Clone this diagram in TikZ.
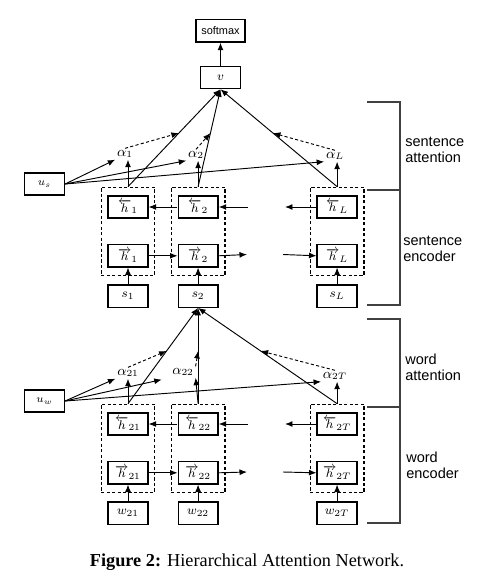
\documentclass[tikz,border=0pt]{standalone}
\usepackage{fontspec}
\setmainfont{Liberation Serif}
\setsansfont{Liberation Sans}
\usetikzlibrary{arrows.meta,positioning,fit}

\begin{document}
\begin{tikzpicture}[x=0.0225cm, y=-0.0225cm,
    box/.style={draw, line width=0.8pt, minimum width=0.9cm, minimum height=0.5cm,
                inner sep=1pt, font=\fontsize{8}{9}\selectfont},
    grp/.style={draw, line width=0.8pt, dash pattern=on 2pt off 1.5pt,
                inner xsep=0.14cm, inner ysep=0.18cm},
    lbl/.style={font=\fontsize{9}{10}\selectfont, inner sep=1pt},
    arr/.style={-{Latex[length=4.8pt,width=3.8pt]}, line width=0.6pt},
    darr/.style={arr, dash pattern=on 2pt off 1.5pt},
    side/.style={font=\sffamily\fontsize{9.3}{10.2}\selectfont, align=left,
                 anchor=west, inner sep=0pt},
    brk/.style={line width=0.7pt, black!75}
  ]
    \useasboundingbox (0,0) rectangle (487,584);

    \node[box] (v)    at (220.5,77.5)          {$v$};
    \node[box, minimum width=1.1cm, font=\sffamily\fontsize{7}{8}\selectfont]
                (soft) [above=0.52cm of v]     {softmax};
    \node[box, font=\fontsize{7}{8}\selectfont] (us) at (44.5,184) {$u_s$};
    \node[lbl] (a1)   at (125,154)             {$\alpha_1$};
    \node[lbl] (a2)   at (196,155)             {$\alpha_2$};
    \node[lbl] (aL)   at (335,156)             {$\alpha_L$};
    \node[box] (hb1)  at (128,207)             {$\overleftarrow{h}_1$};
    \node[box] (hf1)  [below=0.57cm of hb1]    {$\overrightarrow{h}_1$};
    \node[box] (s1)   [below=0.38cm of hf1]    {$s_1$};
    \node[box] (hb2)  [right=0.65cm of hb1]    {$\overleftarrow{h}_2$};
    \node[box] (hf2)  [below=0.57cm of hb2]    {$\overrightarrow{h}_2$};
    \node[box] (s2)   [below=0.38cm of hf2]    {$s_2$};
    \node[box] (hbL)  [right=2.2cm of hb2]     {$\overleftarrow{h}_L$};
    \node[box] (hfL)  [below=0.57cm of hbL]    {$\overrightarrow{h}_L$};
    \node[box] (sL)   [below=0.38cm of hfL]    {$s_L$};
    \node[grp, fit=(hb1)(hf1)] (g1) {};
    \node[grp, fit=(hb2)(hf2)] (g2) {};
    \node[grp, fit=(hbL)(hfL)] (gL) {};
    \coordinate (bo2) at (248,207);
    \coordinate (boL) at (285,207);
    \coordinate (fo2) at (247,254.5);
    \coordinate (foL) at (283,254.5);

    \node[box, font=\fontsize{7}{8}\selectfont] (uw) at (44.5,401) {$u_w$};
    \node[lbl] (a21)  at (128,373)             {$\alpha_{21}$};
    \node[lbl] (a22)  at (183,372)             {$\alpha_{22}$};
    \node[lbl] (a2T)  at (335,376)             {$\alpha_{2T}$};
    \node[box] (hb21) at (128,424)             {$\overleftarrow{h}_{21}$};
    \node[box] (hf21) [below=0.57cm of hb21]   {$\overrightarrow{h}_{21}$};
    \node[box] (w21)  [below=0.38cm of hf21]   {$w_{21}$};
    \node[box] (hb22) [right=0.65cm of hb21]   {$\overleftarrow{h}_{22}$};
    \node[box] (hf22) [below=0.57cm of hb22]   {$\overrightarrow{h}_{22}$};
    \node[box] (w22)  [below=0.38cm of hf22]   {$w_{22}$};
    \node[box] (hb2T) [right=2.2cm of hb22]    {$\overleftarrow{h}_{2T}$};
    \node[box] (hf2T) [below=0.57cm of hb2T]   {$\overrightarrow{h}_{2T}$};
    \node[box] (w2T)  [below=0.38cm of hf2T]   {$w_{2T}$};
    \node[grp, fit=(hb21)(hf21)] (g21) {};
    \node[grp, fit=(hb22)(hf22)] (g22) {};
    \node[grp, fit=(hb2T)(hf2T)] (g2T) {};
    \coordinate (bo22) at (248,424);
    \coordinate (bo2T) at (285,424);
    \coordinate (fo22) at (247,472);
    \coordinate (fo2T) at (283,472);

    \node[side] (sa) at (405,149.5) {sentence\\attention};
    \node[side] (se) at (403,249)   {sentence\\encoder};
    \node[side] (wa) at (405,367)   {word\\attention};
    \node[side] (we) at (406,465)   {word\\encoder};
    \node[font=\fontsize{11.7}{14}\selectfont] (cap) at (247,562)
        {\textbf{Figure 2:} Hierarchical Attention Network.};

    \draw[arr]  (v)    -- (soft);
    \draw[arr]  (g1.north) -- coordinate[pos=0.55] (m1) (v.south);
    \draw[arr]  (g2.north) -- coordinate[pos=0.55] (m2) (v.south);
    \draw[arr]  (gL.north) -- coordinate[pos=0.55] (mL) (v.south);
    \draw[darr] (a1.north) -- (m1);
    \draw[darr] (a2.north) -- (m2);
    \draw[darr] (aL.north) -- (mL);
    \draw[arr]  (us.east) -- (a1.south west);
    \draw[arr]  (us.east) -- (a2.south west);
    \draw[arr]  (us.east) -- (aL.south west);
    \draw[arr]  (g1.north) -- (g1.north |- a1.south);
    \draw[arr]  (g2.north) -- (g2.north |- a2.south);
    \draw[arr]  (gL.north) -- (gL.north |- aL.south);
    \draw[arr]  (hb2.west) -- (hb1.east);
    \draw[arr]  (bo2)      -- (hb2.east);
    \draw[arr]  (hbL.west) -- (boL);
    \draw[arr]  (hf1.east) -- (hf2.west);
    \draw[arr]  (hf2.east) -- (fo2);
    \draw[arr]  (foL)      -- (hfL.west);
    \draw[arr]  (s1) -- (hf1);
    \draw[arr]  (s2) -- (hf2);
    \draw[arr]  (sL) -- (hfL);

    \draw[arr]  (g21.north) -- coordinate[pos=0.55] (m21) (s2.south);
    \draw[arr]  (g22.north) -- coordinate[pos=0.55] (m22) (s2.south);
    \draw[arr]  (g2T.north) -- coordinate[pos=0.55] (m2T) (s2.south);
    \draw[darr] (a21.north) -- (m21);
    \draw[darr] (a22.north east) -- (m22);
    \draw[darr] (a2T.north) -- (m2T);
    \draw[arr]  (uw.east) -- (a21.south west);
    \draw[arr, shorten >=0.2cm] (uw.east) -- (a22.south west);
    \draw[arr]  (uw.east) -- (a2T.south west);
    \draw[arr]  (g21.north) -- (g21.north |- a21.south);
    \draw[arr]  (g22.north) -- (a22.south east);
    \draw[arr]  (g2T.north) -- (g2T.north |- a2T.south);
    \draw[arr]  (hb22.west) -- (hb21.east);
    \draw[arr]  (bo22)      -- (hb22.east);
    \draw[arr]  (hb2T.west) -- (bo2T);
    \draw[arr]  (hf21.east) -- (hf22.west);
    \draw[arr]  (hf22.east) -- (fo22);
    \draw[arr]  (fo2T)      -- (hf2T.west);
    \draw[arr]  (w21) -- (hf21);
    \draw[arr]  (w22) -- (hf22);
    \draw[arr]  (w2T) -- (hf2T);

    \draw[brk] (367,102) -- (400,102) -- (400,305) -- (367,305);
    \draw[brk] (367,190) -- (400,190);
    \draw[brk] (367,319) -- (400,319) -- (400,523) -- (367,523);
    \draw[brk] (367,407) -- (400,407);
  \end{tikzpicture}
\end{document}
